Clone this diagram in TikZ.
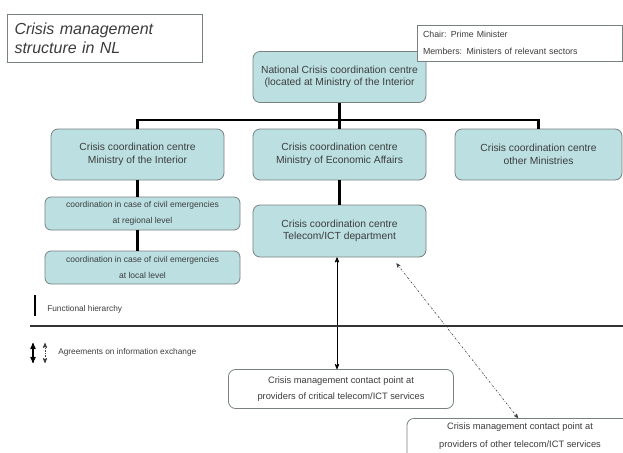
\documentclass[tikz,border=0pt]{standalone}
\usepackage{fontspec}
\setmainfont{Liberation Sans}
\usetikzlibrary{arrows,positioning}
\definecolor{boxfill}{RGB}{188,224,226}
\definecolor{boxline}{RGB}{120,128,128}
\definecolor{txt}{RGB}{60,60,60}

\begin{document}
\begin{tikzpicture}[x=1pt,y=-1pt,>=stealth',semithick]
  \tikzstyle{centre}=[rectangle,rounded corners=7pt,draw=boxline,line width=0.8pt,fill=boxfill,
                      text=txt,align=center,inner sep=0pt,minimum width=173,minimum height=51,
                      font=\fontsize{10.3}{12.5}\selectfont]
  \tikzstyle{civil}=[centre,rounded corners=6pt,minimum width=195,minimum height=33,
                     font=\fontsize{8.5}{16}\selectfont]
  \tikzstyle{contact}=[centre,fill=white,minimum width=225,minimum height=39,
                       font=\fontsize{9.3}{16}\selectfont]
  \tikzstyle{note}=[rectangle,draw=boxline,line width=0.8pt,fill=white,text=txt,align=left,inner sep=0pt]
  \tikzstyle{hier}=[-,line width=2.4pt,black]
  \tikzstyle{info}=[<->,line width=0.8pt,black]
  \tikzstyle{infodash}=[<->,line width=0.6pt,black!75,dash pattern=on 2pt off 1.5pt on 0.5pt off 1.5pt]
  \tikzstyle{legend}=[anchor=west,text=txt,inner sep=0pt,font=\fontsize{8.3}{9}\selectfont]

  \useasboundingbox (0,0) rectangle (623,452);
  \clip (0,0) rectangle (623,452);

  \node[note,minimum width=195,minimum height=48,text width=180,
        font=\fontsize{16}{19}\selectfont\itshape] (title) at (104.5,38)
        {Crisis management\\structure in NL};

  \node[centre] (nat) at (339.5,77) {National Crisis coordination centre\\(located at Ministry of the Interior};
  \node[note,minimum width=205,minimum height=36,text width=193,
        font=\fontsize{8.8}{17}\selectfont] (chair) at (519.5,43)
        {Chair: Prime Minister\\Members: Ministers of relevant sectors};

  \node[centre] (int) at (137.5,154.5) {Crisis coordination centre\\Ministry of the Interior};
  \node[centre] (eco) at (339.5,154.5) {Crisis coordination centre\\Ministry of Economic Affairs};
  \node[centre,minimum width=167] (oth) at (538.5,154.5) {Crisis coordination centre\\other Ministries};

  \node[civil] (reg) at (142.5,213.5) {coordination in case of civil emergencies\\at regional level};
  \node[civil] (loc) at (142.5,267.5) {coordination in case of civil emergencies\\at local level};
  \node[centre,minimum height=52] (tel) at (339.5,231) {Crisis coordination centre\\Telecom/ICT department};

  \node[contact] (crit) at (341,389) {Crisis management contact point at\\providers of critical telecom/ICT services};
  \node[contact,anchor=north,minimum width=226,minimum height=50,
        label={[anchor=north,yshift=-1,text=txt,align=center,
                font=\fontsize{9.3}{18}\selectfont]north:{Crisis management contact point at\\providers of other telecom/ICT services}}]
        (othp) at (520,418) {};

  \coordinate (bus) at (339.5,120);
  \draw[hier] (nat) -- (bus);
  \draw[hier] (bus) -| (int.north);
  \draw[hier] (bus) -| (oth.north);
  \draw[hier] (bus) -- (eco.north);
  \draw[hier] (int.south) -- (int.south |- reg.north);
  \draw[hier] (int.south |- reg.south) -- (int.south |- loc.north);
  \draw[hier] (eco) -- (tel);

  \draw[info] (tel.south -| crit.north) ++(-4,0) coordinate (telarr) -- (telarr |- crit.north);
  \draw[infodash] ([xshift=57,yshift=-6]tel.south) -- ([xshift=-2]othp.north);

  % legend
  \coordinate (legA) at (35,295);
  \coordinate (legB) at (35,316);
  \draw[hier] (legA) -- (legB);
  \node[legend] (leghier) at (47,309) {Functional hierarchy};
  \coordinate (divL) at (30,326);
  \coordinate (divR) at (623,326);
  \draw[line width=2.2pt,black!80] (divL) -- (divR);
  \coordinate (arA) at (33,343);
  \coordinate (arB) at (33,363);
  \draw[info,line width=1.2pt] (arA) -- (arB);
  \draw[infodash,line width=0.8pt] ([xshift=12]arA) -- ([xshift=12]arB);
  \node[legend] (leginfo) at (58,352) {Agreements on information exchange};
\end{tikzpicture}
\end{document}
